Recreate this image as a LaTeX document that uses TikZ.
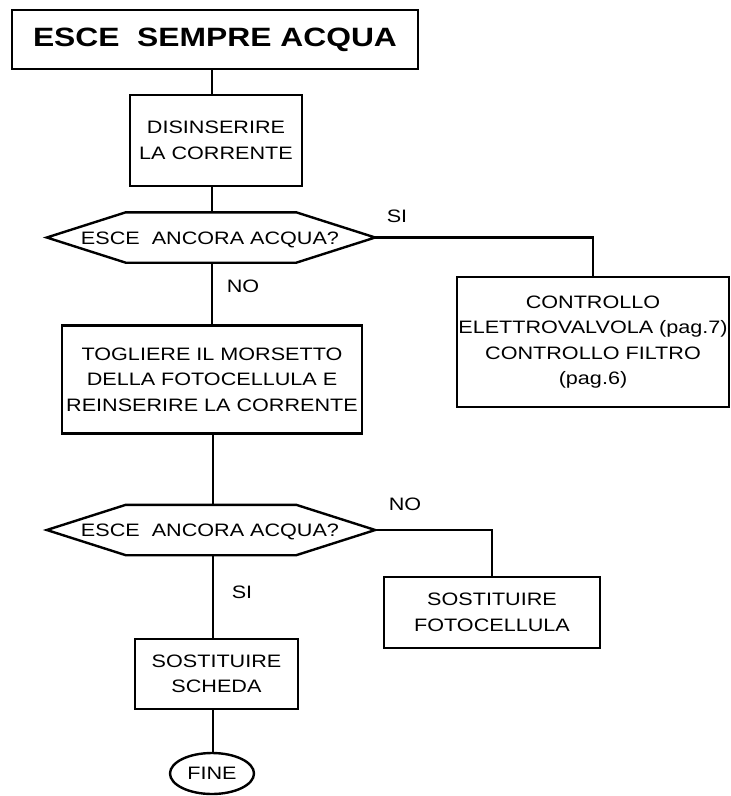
\documentclass[tikz,border=0pt]{standalone}
\usepackage{fontspec}
\setmainfont{Liberation Sans}[FakeStretch=1.2]
\usetikzlibrary{shapes.geometric}
\tikzset{
  box/.style={draw, line width=2.4pt, rectangle, inner sep=0pt, align=center,
    font=\fontsize{18}{25.5}\selectfont},
  hexa/.style={rectangle, inner sep=0pt, minimum width=328pt, minimum height=50pt,
    font=\fontsize{18}{25}\selectfont},
  lbl/.style={inner sep=0pt, font=\fontsize{18}{25}\selectfont},
  conn/.style={line width=2.4pt},
  endnode/.style={draw, line width=2.4pt, ellipse, inner sep=0pt,
    minimum width=84pt, minimum height=41pt, font=\fontsize{18}{25}\selectfont}
}
\newcommand{\hexpath}[1]{%
  \draw[line width=2.4pt, line join=miter] (#1.west) -- ([xshift=79pt]#1.north west)
   -- ([xshift=-79pt]#1.north east) -- (#1.east) -- ([xshift=-79pt]#1.south east)
   -- ([xshift=79pt]#1.south west) -- cycle;}
\begin{document}
\begin{tikzpicture}[x=1pt,y=-1pt]
\useasboundingbox (0,0) rectangle (731,796);
\node[box, line width=2.8pt, minimum width=406pt, minimum height=59pt,
  font=\fontsize{26.5}{30}\selectfont\bfseries] (title) at (215,39.5) {ESCE\ \ SEMPRE ACQUA};
\node[box, minimum width=172pt, minimum height=91pt] (dis) at (216,140.5) {DISINSERIRE\\LA CORRENTE};
\node[hexa] (h1) at (211,237.5) {};
\node[lbl] (h1t) at (210,240) {ESCE\ \ ANCORA ACQUA?};
\hexpath{h1}
\node[box, minimum width=300pt, minimum height=108pt] (tog) at (212,379.5)
  {TOGLIERE IL MORSETTO\\DELLA FOTOCELLULA E\\REINSERIRE LA CORRENTE};
\node[box, minimum width=272pt, minimum height=130pt] (ctrl) at (593,342)
  {CONTROLLO\\ELETTROVALVOLA (pag.7)\\CONTROLLO FILTRO\\(pag.6)};
\node[hexa] (h2) at (211,530) {};
\node[lbl] (h2t) at (210,532) {ESCE\ \ ANCORA ACQUA?};
\hexpath{h2}
\node[box, minimum width=216pt, minimum height=71pt] (foto) at (492,612.5) {SOSTITUIRE\\FOTOCELLULA};
\node[box, minimum width=163pt, minimum height=70pt] (sch) at (216.5,674) {SOSTITUIRE\\SCHEDA};
\node[endnode] (fine) at (212,773.5) {FINE};
\node[lbl] (si1) at (397,216) {SI};
\node[lbl] (no1) at (243,286) {NO};
\node[lbl] (no2) at (405,504) {NO};
\node[lbl] (si2) at (242,592) {SI};
\coordinate (c1) at (212,0);
\coordinate (c2) at (213,0);
\draw[conn] (c1 |- title.south) -- (c1 |- dis.north);
\draw[conn] (c1 |- dis.south) -- (c1 |- h1.north);
\draw[conn] (c1 |- h1.south) -- (c1 |- tog.north);
\draw[conn] (h1.east) -| (ctrl.north);
\draw[conn] (c2 |- tog.south) -- (c2 |- h2.north);
\draw[conn] (h2.east) -| (foto.north);
\draw[conn] (c2 |- h2.south) -- (c2 |- sch.north);
\draw[conn] (c2 |- sch.south) -- (c2 |- fine.north);
\end{tikzpicture}
\end{document}
